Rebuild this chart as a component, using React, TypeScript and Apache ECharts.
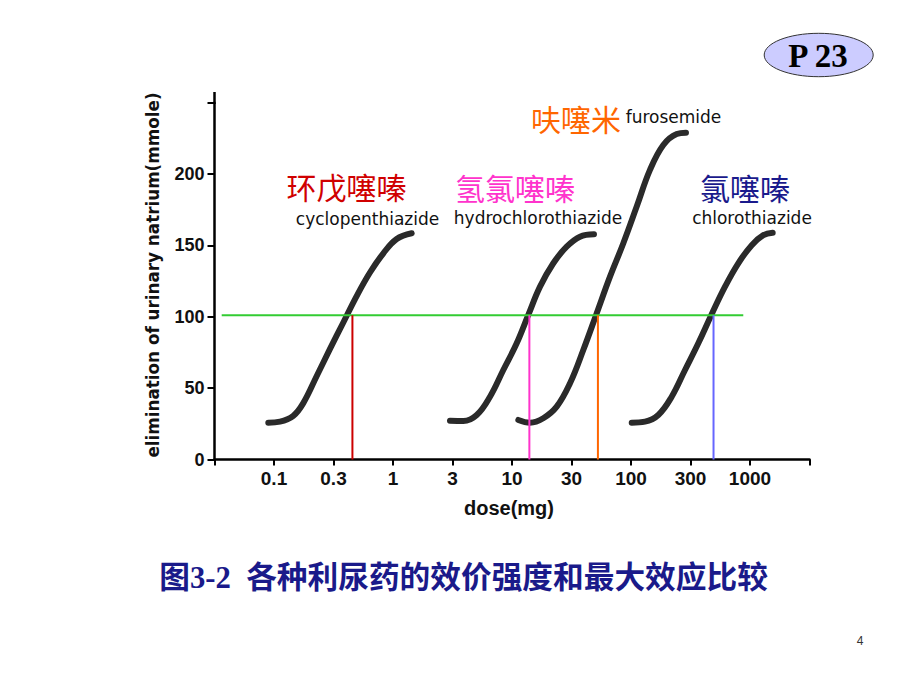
import React, { useEffect, useRef } from "react";
import * as echarts from "echarts";

// x positions are log-dose slots: slot i corresponds to doseLabels[i]
const doseLabels = ["0.1", "0.3", "1", "3", "10", "30", "100", "300", "1000"];
const yTicks = [0, 50, 100, 150, 200, 250];

const cyclopenthiazide: [number, number][] = [
  [-0.096, 25.8], [0.101, 26.5], [0.324, 30.6], [0.492, 39.5], [0.718, 58.5],
  [0.941, 77.5], [1.165, 96.0], [1.389, 114.5], [1.613, 131.0], [1.838, 144.5],
  [2.062, 154.5], [2.314, 158.5],
];
const hydrochlorothiazide: [number, number][] = [
  [2.958, 27.2], [3.182, 27.0], [3.407, 31.2], [3.63, 44.0], [3.854, 62.7],
  [4.079, 81.4], [4.274, 101.3], [4.471, 121.1], [4.694, 137.5], [4.919, 149.1],
  [5.143, 156.1], [5.378, 157.8],
];
const furosemide: [number, number][] = [
  [4.106, 27.7], [4.303, 25.8], [4.526, 28.9], [4.751, 37.0], [4.975, 53.4],
  [5.198, 76.7], [5.424, 102.5], [5.647, 128.1], [5.871, 151.5], [6.096, 177.2],
  [6.319, 202.9], [6.543, 220.4], [6.768, 228.1], [6.924, 229.0],
];
const chlorothiazide: [number, number][] = [
  [6.012, 25.8], [6.235, 26.5], [6.459, 31.2], [6.684, 44.0], [6.908, 62.7],
  [7.131, 81.4], [7.356, 101.8], [7.58, 121.1], [7.803, 137.5], [8.029, 150.2],
  [8.224, 157.2], [8.381, 158.9],
];

const refLevel = 101;
const refLineX: [number, number] = [-0.879, 7.887];
// ED (dose producing refLevel) of each drug, in slot coordinates
const edRed = 1.318;
const edPink = 4.292;
const edOrange = 5.444;
const edBlue = 7.387;

const curveNames = [
  { cn: "环戊噻嗪", en: "cyclopenthiazide" },
  { cn: "氢氯噻嗪", en: "hydrochlorothiazide" },
  { cn: "呋噻米", en: "furosemide" },
  { cn: "氯噻嗪", en: "chlorothiazide" },
];

const title = "图3-2\u00a0\u00a0各种利尿药的效价强度和最大效应比较";

export default function App() {
  const ref = useRef<HTMLDivElement>(null);
  useEffect(() => {
    if (!ref.current) return;
    const chart = echarts.init(ref.current, undefined, { renderer: "svg" });
    const curveStyle = {
      type: "line",
      smooth: 0.4,
      showSymbol: false,
      symbol: "none",
      lineStyle: { color: "#2a2a2a", width: 6, cap: "round", join: "round" },
      z: 2,
    };
    const vline = (x: number, color: string) => ({
      type: "line",
      data: [[x, 0], [x, refLevel]],
      showSymbol: false,
      symbol: "none",
      lineStyle: { color, width: 2 },
      z: 4,
    });
    const latin = "'DejaVu Sans', sans-serif";
    const cjk = "'Noto Sans CJK SC', sans-serif";
    chart.setOption({
      animation: false,
      backgroundColor: "#ffffff",
      grid: { left: 214.5, right: 110.5, top: 102.7, bottom: 230.5 },
      xAxis: {
        type: "value",
        min: -1,
        max: 9,
        interval: 1,
        splitLine: { show: false },
        axisLine: { onZero: false, lineStyle: { color: "#000", width: 2.5 } },
        axisTick: { show: true, length: 6, lineStyle: { color: "#000", width: 2 } },
        axisLabel: {
          margin: 9,
          fontSize: 19,
          fontWeight: "bold",
          color: "#111",
          fontFamily: "'Liberation Sans', Arial, sans-serif",
          showMinLabel: true,
          showMaxLabel: true,
          formatter: (v: number) => {
            const i = Math.round(v);
            return i >= 0 && i < doseLabels.length ? doseLabels[i] : "";
          },
        },
      },
      yAxis: {
        type: "value",
        min: yTicks[0],
        max: yTicks[yTicks.length - 1],
        interval: 50,
        splitLine: { show: false },
        axisLine: { show: true, onZero: false, lineStyle: { color: "#000", width: 2.5 } },
        axisTick: { show: true, length: 7, lineStyle: { color: "#000", width: 2 } },
        axisLabel: {
          margin: 10,
          fontSize: 18,
          fontWeight: "bold",
          color: "#111",
          fontFamily: "'Liberation Sans', Arial, sans-serif",
          formatter: (v: number) => (v >= 250 ? "" : String(v)),
        },
      },
      series: [
        { ...curveStyle, name: curveNames[0].en, data: cyclopenthiazide },
        { ...curveStyle, name: curveNames[1].en, data: hydrochlorothiazide },
        { ...curveStyle, name: curveNames[2].en, data: furosemide },
        { ...curveStyle, name: curveNames[3].en, data: chlorothiazide },
        {
          type: "line",
          data: [[refLineX[0], refLevel], [refLineX[1], refLevel]],
          showSymbol: false,
          symbol: "none",
          lineStyle: { color: "#33cc33", width: 2 },
          z: 3,
        },
        vline(edRed, "#cc0000"),
        vline(edPink, "#ff33cc"),
        vline(edOrange, "#ff6600"),
        vline(edBlue, "#6666ff"),
      ],
      graphic: [
        { type: "line", shape: { x1: 214.5, y1: 92, x2: 214.5, y2: 104 }, style: { stroke: "#000", lineWidth: 2.5 } },
        {
          type: "text", x: 153, y: 275, rotation: Math.PI / 2,
          style: {
            text: "elimination of urinary natrium(mmole)", font: "bold 16.8px 'DejaVu Sans', sans-serif",
            fill: "#111", align: "center", verticalAlign: "middle",
          },
        },
        {
          type: "text", x: 509, y: 508,
          style: { text: "dose(mg)", font: "bold 20px 'Liberation Sans', Arial, sans-serif", fill: "#111", align: "center", verticalAlign: "middle" },
        },
        { type: "text", x: 346.5, y: 186, style: { text: curveNames[0].cn, font: `30px ${cjk}`, fill: "#d00000", align: "center", verticalAlign: "middle" } },
        { type: "text", x: 367.5, y: 219, style: { text: curveNames[0].en, font: `17px ${latin}`, fill: "#111", align: "center", verticalAlign: "middle" } },
        { type: "text", x: 515, y: 187, style: { text: curveNames[1].cn, font: `30px ${cjk}`, fill: "#ff33cc", align: "center", verticalAlign: "middle" } },
        { type: "text", x: 538, y: 218, style: { text: curveNames[1].en, font: `17px ${latin}`, fill: "#111", align: "center", verticalAlign: "middle" } },
        { type: "text", x: 576, y: 118, style: { text: curveNames[2].cn, font: `30px ${cjk}`, fill: "#ff6600", align: "center", verticalAlign: "middle" } },
        { type: "text", x: 673.5, y: 117, style: { text: curveNames[2].en, font: `17px ${latin}`, fill: "#111", align: "center", verticalAlign: "middle" } },
        { type: "text", x: 745, y: 187, style: { text: curveNames[3].cn, font: `30px ${cjk}`, fill: "#1a1a8c", align: "center", verticalAlign: "middle" } },
        { type: "text", x: 752, y: 218, style: { text: curveNames[3].en, font: `17px ${latin}`, fill: "#111", align: "center", verticalAlign: "middle" } },
        {
          type: "ellipse", shape: { cx: 818.7, cy: 55, rx: 54.5, ry: 21.7 },
          style: { fill: "#ccccff", stroke: "#333", lineWidth: 1 },
        },
        {
          type: "text", x: 818, y: 56,
          style: { text: "P 23", font: "bold 33px 'Liberation Serif', 'Times New Roman', serif", fill: "#000", align: "center", verticalAlign: "middle" },
        },
        {
          type: "text", x: 463.5, y: 578,
          style: { text: title, font: "bold 30.7px 'Liberation Serif', 'Noto Sans CJK SC', serif", fill: "#1a1a8a", align: "center", verticalAlign: "middle" },
        },
        {
          type: "text", x: 860, y: 641,
          style: { text: "4", font: "12px 'Liberation Sans', Arial, sans-serif", fill: "#333", align: "center", verticalAlign: "middle" },
        },
      ],
    });
    return () => chart.dispose();
  }, []);
  return (
    <div
      ref={ref}
      style={{ position: "absolute", left: 0, top: 0, width: 920, height: 690, background: "#fff" }}
    />
  );
}
